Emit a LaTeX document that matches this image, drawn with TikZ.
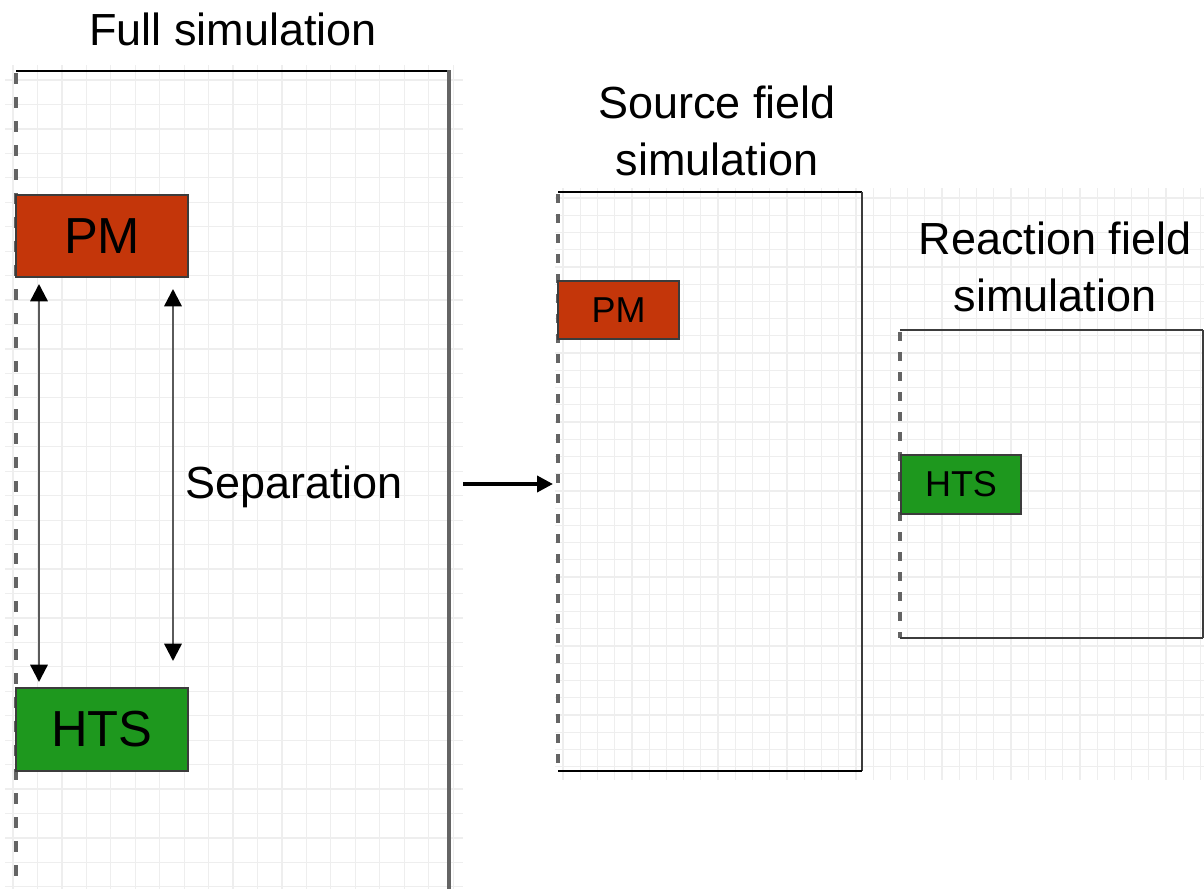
\documentclass[tikz,border=0pt]{standalone}
\usepackage{fontspec}
\setmainfont{Liberation Sans}
\usetikzlibrary{arrows.meta,calc}

\definecolor{pmred}{RGB}{196,54,10}
\definecolor{htsgreen}{RGB}{30,152,30}
\definecolor{gridgray}{RGB}{238,238,238}
\definecolor{edgegray}{RGB}{60,60,60}
\definecolor{sidegray}{RGB}{100,100,100}
\definecolor{shaftgray}{RGB}{90,90,90}

\tikzset{
  gridline/.style={draw=gridgray, line width=0.9pt},
  material/.style={draw=edgegray, line width=1.5pt, inner sep=0pt, text=black},
  pmbox/.style={material, fill=pmred},
  htsbox/.style={material, fill=htsgreen},
  bigbox/.style={font=\fontsize{38}{40}\selectfont},
  smallbox/.style={font=\fontsize{27}{30}\selectfont},
  title/.style={inner sep=0pt, align=center, font=\fontsize{33.75}{42.75}\selectfont},
  solidedge/.style={draw=edgegray, line width=1.5pt},
  thickedge/.style={draw=sidegray, line width=2.8pt},
  openedge/.style={draw=sidegray, line width=2.6pt, dash pattern=on 8pt off 10pt},
  gapline/.style={draw=shaftgray, line width=1.8pt,
    {Triangle[length=13pt,width=13pt,color=black]}-{Triangle[length=13pt,width=13pt,color=black]}},
  splitarrow/.style={draw=black, line width=2.8pt, -{Triangle[length=12pt,width=12pt]}}
}

\begin{document}
\begin{tikzpicture}[x=0.75pt, y=-0.75pt]
\useasboundingbox (0,0) rectangle (1204,889);
\fill[white] (0,0) rectangle (1204,889);

% ---- background grids ----
\begin{scope}
  \clip (5,65) rectangle (463,889);
  \foreach \i in {0,...,19} {
    \draw[gridline] ({13+24.45*\i},65) -- ({13+24.45*\i},889);
  }
  \foreach \j in {-1,...,34} {
    \draw[gridline] (5,{80+24.45*\j}) -- (463,{80+24.45*\j});
  }
\end{scope}
\begin{scope}
  \clip (555,188) rectangle (1204,780);
  \foreach \i in {0,...,38} {
    \draw[gridline] ({563+17.23*\i},188) -- ({563+17.23*\i},780);
  }
  \foreach \j in {-1,...,34} {
    \draw[gridline] (555,{198+17.23*\j}) -- (1204,{198+17.23*\j});
  }
\end{scope}

% ---- full simulation domain ----
\draw[openedge] (16,73) -- (16,889);
\draw[draw=black, line width=1.6pt] (16,71) -- (449,71);
\draw[thickedge] (449,70) -- (449,889);

% ---- source field domain ----
\draw[openedge, line width=2.6pt, dash pattern=on 7pt off 8pt] (558,194) -- (558,771);
\draw[draw=black, line width=1.2pt] (558,192) -- (862,192);
\draw[solidedge] (862,192) -- (862,771);
\draw[draw=black, line width=1.6pt] (558,771) -- (862,771);

% ---- reaction field domain ----
\draw[openedge, line width=2.6pt, dash pattern=on 7pt off 8pt] (900,332) -- (900,638);
\draw[draw=edgegray, line width=1.4pt] (900,330) -- (1203,330);
\draw[solidedge] (1203,330) -- (1203,638);
\draw[draw=edgegray, line width=1.6pt] (900,638) -- (1203,638);

% ---- magnet and superconductor ----
\node[pmbox, bigbox, minimum width=129pt, minimum height=61.5pt] (pmA) at (102,236) {PM};
\node[htsbox, bigbox, minimum width=129pt, minimum height=62.25pt] (htsA) at (102,729.5) {HTS};
\node[pmbox, smallbox, minimum width=90.75pt, minimum height=43.5pt] (pmB) at (618.5,310) {PM};
\node[htsbox, smallbox, minimum width=90pt, minimum height=44.25pt] (htsB) at (961,484.5) {HTS};

% ---- separation arrows ----
\draw[gapline] ($(pmA.south west)+(24,6)$) -- ($(htsA.north west)+(24,-5)$);
\draw[gapline] ($(pmA.south east)+(-16,11)$) -- ($(htsA.north east)+(-16,-26)$);

% ---- labels ----
\node[title] (tFull) at (233,29) {Full simulation};
\node[title] (tSep) at (294,487) {Separation};
\node[title] (tSrc) at (717,131) {Source field\\simulation};
\node[title] (tRea) at (1055,267) {Reaction field\\simulation};

% ---- split arrow ----
\coordinate (splitA) at (463,484);
\coordinate (splitB) at (553,484);
\draw[splitarrow] (splitA) -- (splitB);
\end{tikzpicture}
\end{document}
